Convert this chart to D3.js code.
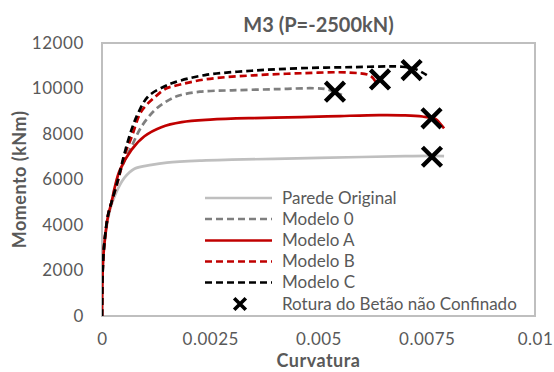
<!DOCTYPE html>
<html>
<head>
<meta charset="utf-8">
<script src="https://cdn.jsdelivr.net/npm/d3@7"></script>
<style>
  html, body { margin: 0; padding: 0; background: #fff; }
  svg { display: block; font-family: Lato, "Open Sans", sans-serif; }
</style>
</head>
<body>
<svg id="chart" width="554" height="372"></svg>
<script>
// Moment–curvature curves, section M3 under axial load P = -2500 kN
const paredeOriginal = [[0,0],[0.00001,1600],[0.00003,2600],[0.00007,3400],[0.00014,4300],[0.00022,4900],[0.0003,5300],[0.00037,5600],[0.00052,6080],[0.00075,6470],[0.00114,6640],[0.0015,6740],[0.0023,6830],[0.003,6870],[0.0045,6930],[0.006,6990],[0.007,7030],[0.0076,7040],[0.0079,7030]];
const modelo0 = [[0,0],[0.00001,1600],[0.00003,2600],[0.00007,3450],[0.00014,4400],[0.00022,5000],[0.00033,5850],[0.00048,6650],[0.00068,7440],[0.00091,8320],[0.00122,9050],[0.00148,9420],[0.00176,9680],[0.00226,9860],[0.003,9920],[0.004,9970],[0.0049,10010],[0.0052,9960],[0.00554,9720]];
const modeloA = [[0,0],[0.00001,1600],[0.00003,2600],[0.00007,3450],[0.00014,4400],[0.00022,5000],[0.0003,5700],[0.00041,6400],[0.00068,7300],[0.00098,7900],[0.00137,8300],[0.00184,8520],[0.0025,8630],[0.0035,8700],[0.0046,8740],[0.0055,8790],[0.0064,8830],[0.007,8820],[0.0074,8770],[0.0077,8660],[0.0078,8480],[0.0079,8250]];
const modeloB = [[0,0],[0.00001,1600],[0.00003,2600],[0.00007,3500],[0.00014,4450],[0.00022,5000],[0.00037,5950],[0.00052,7050],[0.00069,7900],[0.00091,9000],[0.00122,9620],[0.00148,10000],[0.00169,10120],[0.00238,10400],[0.0035,10580],[0.0046,10670],[0.0057,10700],[0.0062,10560],[0.00634,10230]];
const modeloC = [[0,0],[0.00001,1600],[0.00003,2600],[0.00007,3500],[0.00014,4450],[0.00022,5000],[0.00037,6000],[0.00052,7150],[0.00068,8180],[0.00083,8900],[0.00106,9640],[0.00145,10100],[0.00169,10280],[0.00238,10590],[0.00345,10780],[0.00457,10890],[0.0058,10940],[0.0069,10960],[0.0072,10880],[0.0075,10590]];
// Unconfined concrete crushing points
const rotura = [[0.00762,7000],[0.00538,9860],[0.00761,8690],[0.00642,10400],[0.00715,10810]];

const xTicks = [0, 0.0025, 0.005, 0.0075, 0.01];
const xTickLabels = ["0", "0.0025", "0.005", "0.0075", "0.01"];
const yTicks = [0, 2000, 4000, 6000, 8000, 10000, 12000];

const series = [
  { name: "Parede Original", data: paredeOriginal, color: "#bfbfbf", dash: null },
  { name: "Modelo 0", data: modelo0, color: "#7f7f7f", dash: "7,4" },
  { name: "Modelo A", data: modeloA, color: "#c00000", dash: null },
  { name: "Modelo B", data: modeloB, color: "#c00000", dash: "7,4" },
  { name: "Modelo C", data: modeloC, color: "#000000", dash: "7,4" }
];
const markerLabel = "Rotura do Betão não Confinado";

const svg = d3.select("#chart");
const plotLeft = 102, plotRight = 535, plotTop = 43, plotBottom = 316;
const textColor = "#595959";

const x = d3.scaleLinear().domain([0, 0.01]).range([plotLeft, plotRight]);
const y = d3.scaleLinear().domain([0, 12000]).range([plotBottom, plotTop]);

// plot area frame
svg.append("rect")
  .attr("x", plotLeft).attr("y", plotTop)
  .attr("width", plotRight - plotLeft).attr("height", plotBottom - plotTop)
  .attr("fill", "none").attr("stroke", "#bfbfbf").attr("stroke-width", 2);

// axes (labels only, no tick marks)
const xAxis = d3.axisBottom(x).tickValues(xTicks)
  .tickFormat((d, i) => xTickLabels[i]).tickSize(0).tickPadding(17);
svg.append("g").attr("transform", `translate(0,${plotBottom})`).call(xAxis)
  .call(g => g.select(".domain").remove())
  .selectAll("text").attr("fill", textColor).style("font-size", "17px")
  .style("letter-spacing", "0.5px").style("font-family", "Lato, sans-serif");

const yAxis = d3.axisLeft(y).tickValues(yTicks).tickFormat(d3.format("d"))
  .tickSize(0).tickPadding(18);
svg.append("g").attr("transform", `translate(${plotLeft},0)`).call(yAxis)
  .call(g => g.select(".domain").remove())
  .selectAll("text").attr("fill", textColor).style("font-size", "17px")
  .style("letter-spacing", "0.6px").style("font-family", "Lato, sans-serif");

// curves
svg.append("clipPath").attr("id", "plotClip").append("rect")
  .attr("x", plotLeft).attr("y", plotTop).attr("width", plotRight - plotLeft).attr("height", plotBottom - plotTop);

const line = d3.line().x(d => x(d[0])).y(d => y(d[1])).curve(d3.curveCatmullRom.alpha(0.5));
const curves = svg.append("g").attr("clip-path", "url(#plotClip)");
series.forEach(s => {
  curves.append("path").datum(s.data)
    .attr("d", line)
    .attr("fill", "none")
    .attr("stroke", s.color)
    .attr("stroke-width", 2.7)
    .attr("stroke-dasharray", s.dash);
});

// crushing markers
const xMark = d3.symbol().type(d3.symbolX);
curves.selectAll(".rot").data(rotura).join("path")
  .attr("class", "rot")
  .attr("transform", d => `translate(${x(d[0])},${y(d[1])})`)
  .attr("d", xMark.size(240))
  .attr("fill", "none").attr("stroke", "#000").attr("stroke-width", 4.4);

// legend
const legendRows = [198, 219, 240.5, 261.5, 282.5, 304];
const legend = svg.append("g");
series.forEach((s, i) => {
  legend.append("line")
    .attr("x1", 205).attr("x2", 272)
    .attr("y1", legendRows[i]).attr("y2", legendRows[i])
    .attr("stroke", s.color).attr("stroke-width", 2.7)
    .attr("stroke-dasharray", s.dash);
  legend.append("text")
    .attr("x", 282).attr("y", legendRows[i]).attr("dy", "0.35em")
    .attr("fill", textColor).style("font-size", "17px")
    .text(s.name);
});
legend.append("path")
  .attr("transform", `translate(240,${legendRows[5]})`)
  .attr("d", d3.symbol().type(d3.symbolX).size(90)())
  .attr("fill", "none").attr("stroke", "#000").attr("stroke-width", 3.6);
legend.append("text")
  .attr("x", 282).attr("y", legendRows[5]).attr("dy", "0.35em")
  .attr("fill", textColor).style("font-size", "17px")
  .text(markerLabel);

// titles
svg.append("text")
  .attr("x", (plotLeft + plotRight) / 2).attr("y", 32)
  .attr("text-anchor", "middle").attr("fill", textColor)
  .style("font-size", "20px").style("font-weight", "bold")
  .text("M3 (P=-2500kN)");

svg.append("text")
  .attr("x", (plotLeft + plotRight) / 2).attr("y", 367)
  .attr("text-anchor", "middle").attr("fill", textColor)
  .style("font-size", "18px").style("font-weight", "bold")
  .style("letter-spacing", "0.5px")
  .text("Curvatura");

svg.append("text")
  .attr("transform", `translate(20,${(plotTop + plotBottom) / 2}) rotate(-90)`)
  .attr("dy", "0.35em")
  .attr("text-anchor", "middle").attr("fill", textColor)
  .style("font-size", "18px").style("font-weight", "bold")
  .style("letter-spacing", "0.5px")
  .text("Momento (kNm)");
</script>
</body>
</html>
